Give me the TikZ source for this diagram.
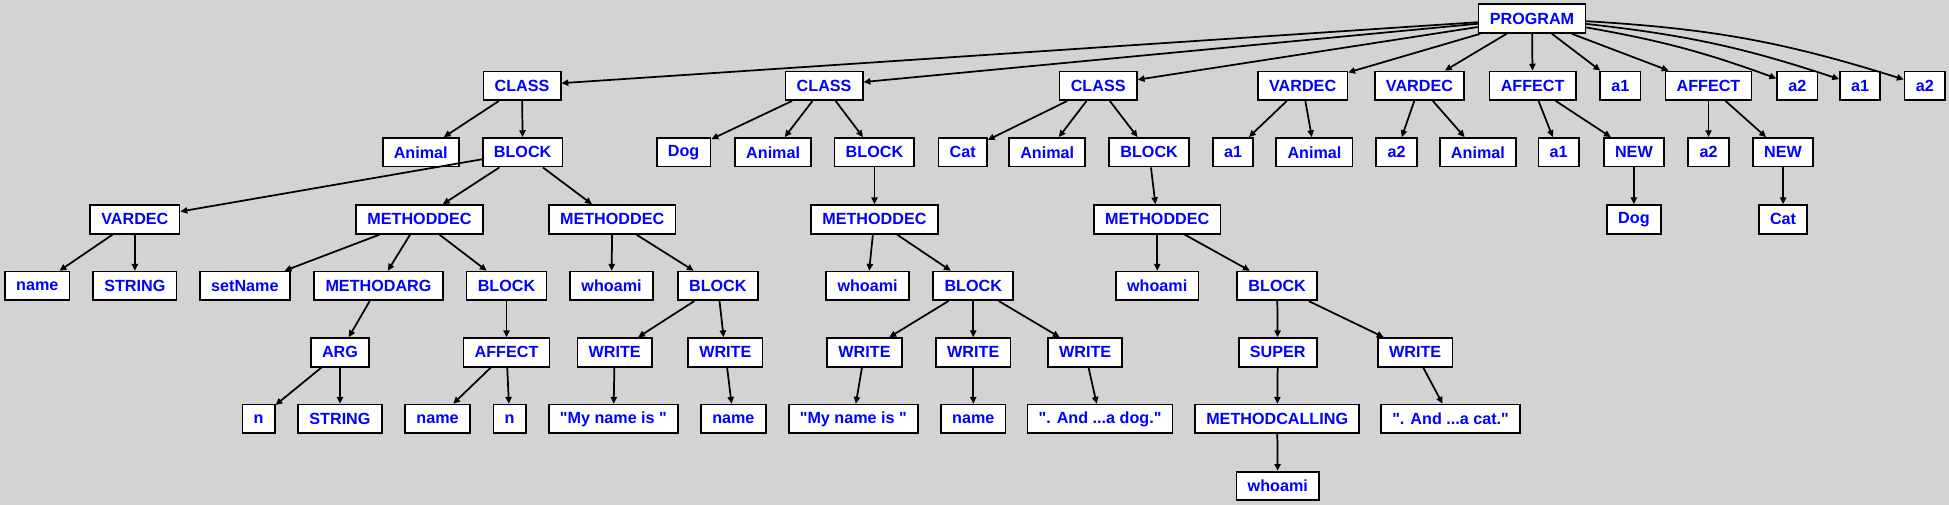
\documentclass[tikz,border=0pt]{standalone}
\usepackage{fontspec}
\setmainfont{Liberation Sans}[Ligatures=TeXOff]
\usepackage{tikz}
\usetikzlibrary{arrows.meta}
\definecolor{bggray}{RGB}{211,211,211}

\begin{document}
\begin{tikzpicture}[x=1pt, y=-1pt,
      tok/.style={draw, line width=1.4pt, fill=white, text=blue, font=\fontsize{13}{15}\selectfont\bfseries, minimum height=23pt, inner xsep=9pt, inner ysep=1pt},
      arr/.style={line width=1.4pt, -{Triangle[length=5.5pt,width=5pt]}}]
    \fill[bggray] (0,0) rectangle (1568,406);
    \useasboundingbox (0,0) rectangle (1568,406);
    % level 0 and 1
    \node[tok] (prog) at (1232.5,15) {PROGRAM};
    \node[tok] (cls1) at (420,69) {CLASS};
    \node[tok] (cls2) at (663,69) {CLASS};
    \node[tok] (cls3) at (883.5,69) {CLASS};
    \node[tok] (vd1) at (1048,69) {VARDEC};
    \node[tok] (vd2) at (1142,69) {VARDEC};
    \node[tok] (aff1) at (1233,69) {AFFECT};
    \node[tok] (ida1) at (1303.5,69) {a1};
    \node[tok] (aff2) at (1374.5,69) {AFFECT};
    \node[tok] (ida2) at (1446,69) {a2};
    \node[tok] (idb1) at (1496.5,69) {a1};
    \node[tok] (idb2) at (1548.5,69) {a2};
    % level 2
    \node[tok] (anm1) at (338.5,122.5) {Animal};
    \node[tok] (blk1) at (420.5,122.5) {BLOCK};
    \node[tok] (dog) at (550,122.5) {Dog};
    \node[tok] (anm2) at (622,122.5) {Animal};
    \node[tok] (blk2) at (703.5,122.5) {BLOCK};
    \node[tok] (cat) at (774.5,122.5) {Cat};
    \node[tok] (anm3) at (842.5,122.5) {Animal};
    \node[tok] (blk3) at (924.5,122.5) {BLOCK};
    \node[tok] (vd1a) at (992,122.5) {a1};
    \node[tok] (vd1t) at (1057.5,122.5) {Animal};
    \node[tok] (vd2a) at (1123.5,122.5) {a2};
    \node[tok] (vd2t) at (1189,122.5) {Animal};
    \node[tok] (af1a) at (1254,122.5) {a1};
    \node[tok] (new1) at (1314.5,122.5) {NEW};
    \node[tok] (af2a) at (1374.5,122.5) {a2};
    \node[tok] (new2) at (1434.5,122.5) {NEW};
    % level 3
    \node[tok] (vd3) at (108.5,176.5) {VARDEC};
    \node[tok] (md1) at (337.5,176.5) {METHODDEC};
    \node[tok] (md2) at (492.5,176.5) {METHODDEC};
    \node[tok] (md3) at (703.5,176.5) {METHODDEC};
    \node[tok] (md4) at (931,176.5) {METHODDEC};
    \node[tok] (dog2) at (1314.5,176.5) {Dog};
    \node[tok] (cat2) at (1434.5,176.5) {Cat};
    % level 4
    \node[tok] (nm1) at (30,230) {name};
    \node[tok] (str1) at (108.5,230) {STRING};
    \node[tok] (setn) at (197,230) {setName};
    \node[tok] (marg) at (304.5,230) {METHODARG};
    \node[tok] (blk4) at (407.5,230) {BLOCK};
    \node[tok] (who1) at (492,230) {whoami};
    \node[tok] (blk5) at (577.5,230) {BLOCK};
    \node[tok] (who2) at (698,230) {whoami};
    \node[tok] (blk6) at (783,230) {BLOCK};
    \node[tok] (who3) at (931,230) {whoami};
    \node[tok] (blk7) at (1027.5,230) {BLOCK};
    % level 5
    \node[tok] (arg) at (273.5,283.5) {ARG};
    \node[tok] (aff3) at (407.5,283.5) {AFFECT};
    \node[tok] (wr1) at (494.5,283.5) {WRITE};
    \node[tok] (wr2) at (583.5,283.5) {WRITE};
    \node[tok] (wr3) at (695.5,283.5) {WRITE};
    \node[tok] (wr4) at (783,283.5) {WRITE};
    \node[tok] (wr5) at (873,283.5) {WRITE};
    \node[tok] (sup) at (1028,283.5) {SUPER};
    \node[tok] (wr6) at (1138.5,283.5) {WRITE};
    % level 6 and 7
    \node[tok] (n1) at (208,337) {n};
    \node[tok] (str2) at (273.5,337) {STRING};
    \node[tok] (nm2) at (352,337) {name};
    \node[tok] (n2) at (410,337) {n};
    \node[tok] (lit1) at (493.5,337) {"My name is "};
    \node[tok] (nm3) at (590,337) {name};
    \node[tok] (lit2) at (686.5,337) {"My name is "};
    \node[tok] (nm4) at (783,337) {name};
    \node[tok] (lit3) at (885,337) {". And ...a dog."};
    \node[tok] (mcall) at (1027.5,337) {METHODCALLING};
    \node[tok] (lit4) at (1167,337) {". And ...a cat."};
    \node[tok] (who4) at (1028,391) {whoami};
    % edges
    \draw[arr] (prog) -- (cls1); \draw[arr] (prog) -- (cls2); \draw[arr] (prog) -- (cls3);
    \draw[arr] (prog) -- (vd1); \draw[arr] (prog) -- (vd2); \draw[arr] (prog) -- (aff1);
    \draw[arr] (prog) -- (ida1); \draw[arr] (prog) -- (aff2);
    \draw[arr] (prog) to[bend left=5] (ida2); \draw[arr] (prog) to[bend left=6] (idb1);
    \draw[arr] (prog) to[bend left=7] (idb2);
    \draw[arr] (cls1) -- (anm1); \draw[arr] (cls1) -- (blk1);
    \draw[arr] (blk1) -- (vd3); \draw[arr] (blk1) -- (md1); \draw[arr] (blk1) -- (md2);
    \draw[arr] (vd3) -- (nm1); \draw[arr] (vd3) -- (str1);
    \draw[arr] (md1) -- (setn); \draw[arr] (md1) -- (marg); \draw[arr] (md1) -- (blk4);
    \draw[arr] (marg) -- (arg); \draw[arr] (arg) -- (n1); \draw[arr] (arg) -- (str2);
    \draw[arr] (blk4) -- (aff3); \draw[arr] (aff3) -- (nm2); \draw[arr] (aff3) -- (n2);
    \draw[arr] (md2) -- (who1); \draw[arr] (md2) -- (blk5);
    \draw[arr] (blk5) -- (wr1); \draw[arr] (blk5) -- (wr2);
    \draw[arr] (wr1) -- (lit1); \draw[arr] (wr2) -- (nm3);
    \draw[arr] (cls2) -- (dog); \draw[arr] (cls2) -- (anm2); \draw[arr] (cls2) -- (blk2);
    \draw[arr] (blk2) -- (md3); \draw[arr] (md3) -- (who2); \draw[arr] (md3) -- (blk6);
    \draw[arr] (blk6) -- (wr3); \draw[arr] (blk6) -- (wr4); \draw[arr] (blk6) -- (wr5);
    \draw[arr] (wr3) -- (lit2); \draw[arr] (wr4) -- (nm4); \draw[arr] (wr5) -- (lit3);
    \draw[arr] (cls3) -- (cat); \draw[arr] (cls3) -- (anm3); \draw[arr] (cls3) -- (blk3);
    \draw[arr] (blk3) -- (md4); \draw[arr] (md4) -- (who3); \draw[arr] (md4) -- (blk7);
    \draw[arr] (blk7) -- (sup); \draw[arr] (blk7) -- (wr6);
    \draw[arr] (sup) -- (mcall); \draw[arr] (mcall) -- (who4); \draw[arr] (wr6) -- (lit4);
    \draw[arr] (vd1) -- (vd1a); \draw[arr] (vd1) -- (vd1t);
    \draw[arr] (vd2) -- (vd2a); \draw[arr] (vd2) -- (vd2t);
    \draw[arr] (aff1) -- (af1a); \draw[arr] (aff1) -- (new1); \draw[arr] (new1) -- (dog2);
    \draw[arr] (aff2) -- (af2a); \draw[arr] (aff2) -- (new2); \draw[arr] (new2) -- (cat2);
  \end{tikzpicture}
\end{document}
